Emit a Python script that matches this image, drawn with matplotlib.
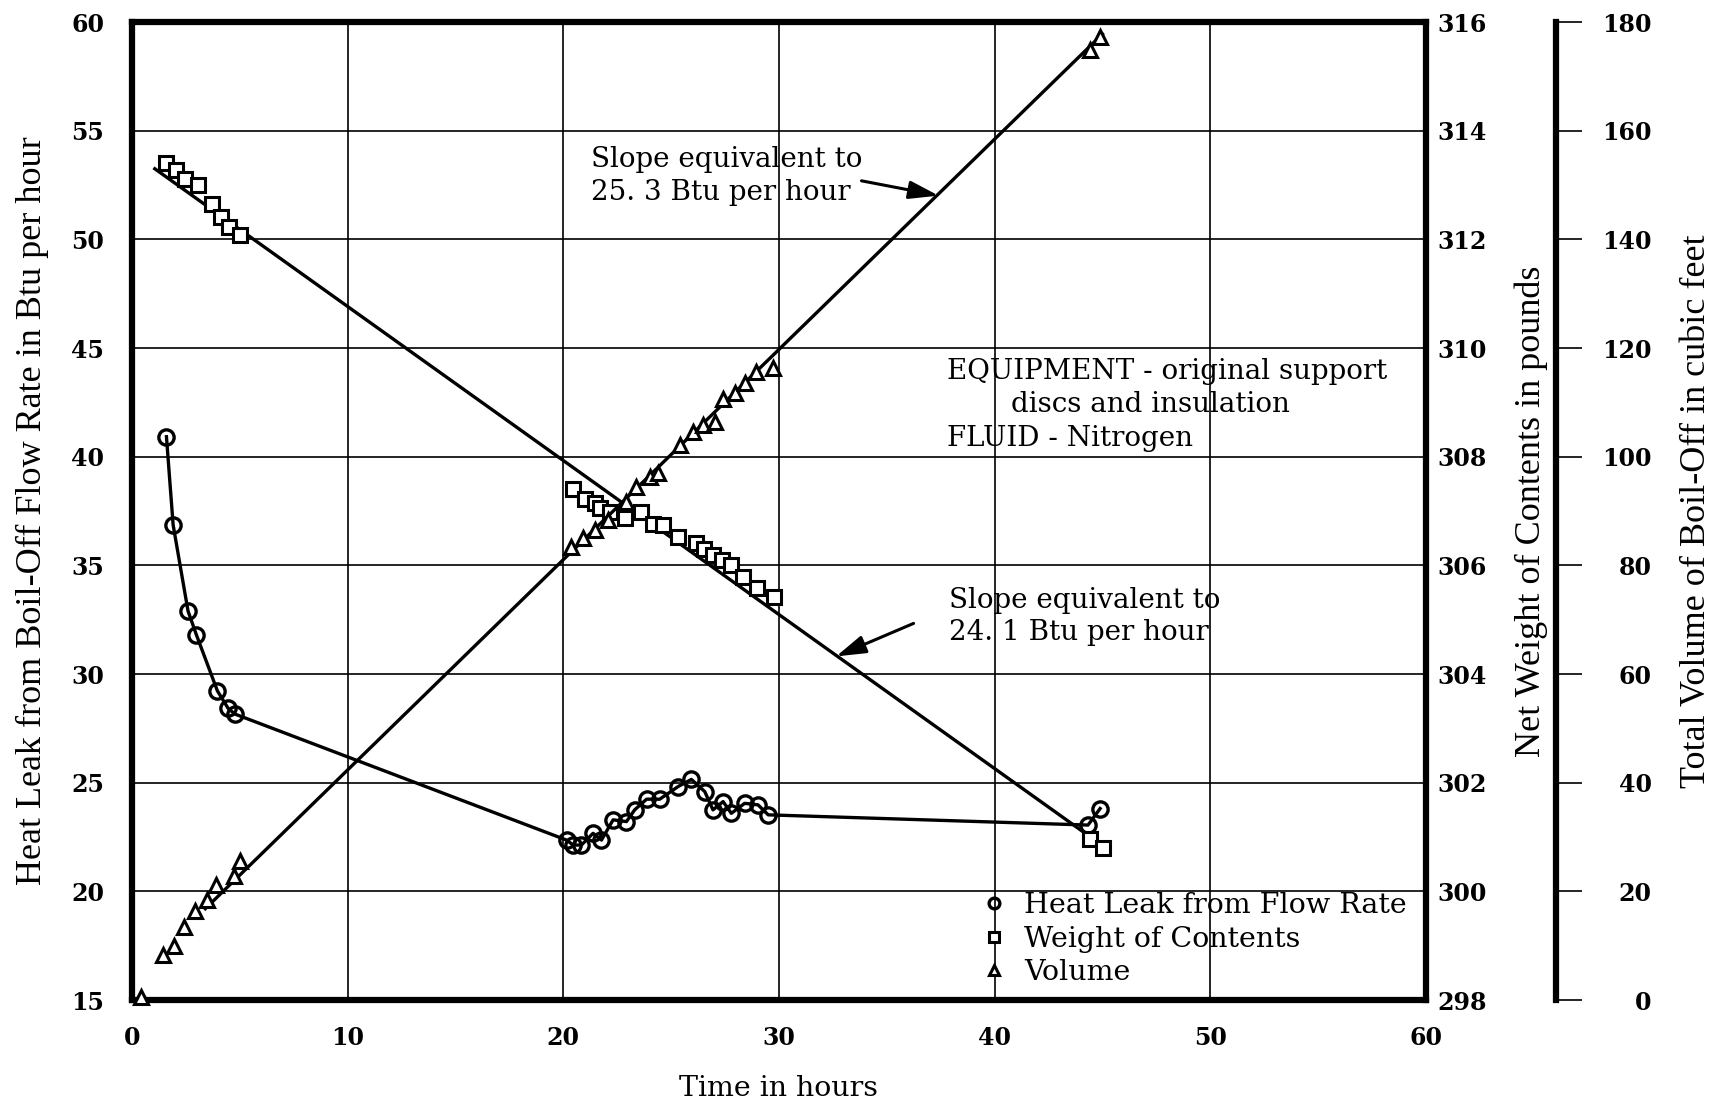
import matplotlib.pyplot as plt

# heat leak from boil-off flow rate (Btu per hour) vs time (hours)
heat_t = [1.60, 1.91, 2.60, 2.99, 3.96, 4.46, 4.77,
          20.15, 20.46, 20.84, 21.38, 21.77, 22.31, 22.93, 23.31, 23.86, 24.47,
          25.32, 25.94, 26.56, 26.94, 27.41, 27.79, 28.41, 29.03, 29.50,
          44.33, 44.89]
heat_q = [40.92, 36.86, 32.90, 31.80, 29.23, 28.42, 28.16,
          22.36, 22.13, 22.13, 22.67, 22.36, 23.29, 23.21, 23.75, 24.24, 24.24,
          24.82, 25.15, 24.59, 23.75, 24.13, 23.59, 24.05, 23.98, 23.52,
          23.05, 23.81]

# net weight of contents (pounds)
weight_t = [1.60, 2.03, 2.47, 3.06, 3.73, 4.12, 4.49, 5.03,
            20.45, 20.99, 21.46, 21.69, 22.15, 22.85, 23.62, 24.16, 24.63,
            25.32, 26.17, 26.51, 26.94, 27.34, 27.76, 28.34, 28.98, 29.76,
            44.43, 45.04]
weight_lb = [313.40, 313.28, 313.12, 313.00, 312.65, 312.42, 312.23, 312.08,
             307.40, 307.22, 307.14, 307.05, 306.99, 306.87, 306.99, 306.77, 306.74,
             306.53, 306.41, 306.31, 306.19, 306.10, 306.01, 305.78, 305.58, 305.42,
             300.96, 300.80]
weight_fit_t = [1.06, 44.9]
weight_fit_lb = [313.30, 300.87]

# total volume of boil-off (cubic feet)
vol_t = [0.42, 1.43, 1.97, 2.40, 2.93, 3.47, 3.90, 4.75, 5.03,
         20.38, 20.92, 21.46, 22.08, 22.92, 23.39, 24.01, 24.39, 25.40,
         26.02, 26.48, 27.02, 27.41, 27.95, 28.41, 28.95, 29.72,
         44.41, 44.87]
vol_cf = [0.5, 8.3, 10.0, 13.5, 16.4, 18.4, 21.2, 22.8, 25.5,
          83.3, 85.0, 86.5, 88.4, 91.7, 94.5, 96.3, 97.0, 102.2,
          104.6, 105.8, 106.4, 110.7, 111.7, 113.5, 115.6, 116.3,
          174.9, 177.3]
vol_fit_t = [3.4, 45.0]
vol_fit_cf = [16.8, 177.8]

plt.rcParams['font.family'] = 'DejaVu Serif'

fig = plt.figure(figsize=(17.27, 11.04), dpi=100)
ax = fig.add_axes([0.0764, 0.0942, 0.7493, 0.8858])
ax2 = ax.twinx()
ax3 = ax.twinx()

ax.set_xlim(0, 60)
ax.set_ylim(15, 60)
ax2.set_ylim(298, 316)
ax3.set_ylim(0, 180)
ax.set_xticks(range(0, 61, 10))
ax.set_yticks(range(15, 61, 5))
ax2.set_yticks(range(298, 317, 2))
ax3.set_yticks(range(0, 181, 20))

ax.grid(True, color='black', lw=1.2)
for s in ax.spines.values():
    s.set_linewidth(4.5)
for s in ax2.spines.values():
    s.set_visible(False)
for k, s in ax3.spines.items():
    s.set_visible(k == 'right')
ax3.spines['right'].set_position(('axes', 1.1005))
ax3.spines['right'].set_linewidth(4.5)

ax.tick_params(length=0, labelsize=17)
ax.tick_params(axis='y', pad=20)
ax.tick_params(axis='x', pad=19)
ax2.tick_params(length=0, labelsize=17, pad=8)
ax3.tick_params(length=19, width=1.2, direction='out', labelsize=17, pad=50)
for lbl in ax.get_xticklabels() + ax.get_yticklabels() + ax2.get_yticklabels() + ax3.get_yticklabels():
    lbl.set_fontweight('bold')
for lbl in ax3.get_yticklabels():
    lbl.set_horizontalalignment('right')

# data
ax.plot(heat_t, heat_q, color='black', lw=2.4)
h1, = ax.plot(heat_t, heat_q, 'o', ms=11, mfc='none', mec='black', mew=2.4,
              label='Heat Leak from Flow Rate')
ax2.plot(weight_fit_t, weight_fit_lb, color='black', lw=2.4)
h2, = ax2.plot(weight_t, weight_lb, 's', ms=9.5, mfc='white', mec='black', mew=2.2,
               label='Weight of Contents')
ax3.plot(vol_fit_t, vol_fit_cf, color='black', lw=2.4)
h3, = ax3.plot(vol_t, vol_cf, '^', ms=10, mfc='white', mec='black', mew=2.2,
               label='Volume', clip_on=False)

# axis titles
lkw = dict(transform=ax.transAxes, rotation=90, ha='center', va='center',
           family='Liberation Serif', fontsize=26)
ax.text(-0.0765, 0.5, 'Heat Leak from Boil-Off Flow Rate in Btu per hour', **lkw)
ax.text(1.081, 0.5, 'Net Weight of Contents in pounds', **lkw)
ax.text(1.2087, 0.5, 'Total Volume of Boil-Off in cubic feet', **lkw)
ax.set_xlabel('Time in hours', fontsize=20.5, labelpad=18)

# annotations
tkw = dict(fontsize=20, ha='left', va='center', transform=ax.transData)
ax3.text(21.29, 53.67, 'Slope equivalent to', **tkw)
ax3.text(21.29, 52.15, '25. 3 Btu per hour', **tkw)
ax3.text(37.79, 43.94, 'EQUIPMENT - original support', **tkw)
ax3.text(40.75, 42.41, 'discs and insulation', **tkw)
ax3.text(37.79, 40.84, 'FLUID - Nitrogen', **tkw)
ax3.text(37.89, 33.39, 'Slope equivalent to', **tkw)
ax3.text(37.89, 31.92, '24. 1 Btu per hour', **tkw)

akw = dict(arrowstyle='-|>,head_length=1.8,head_width=0.55', color='black', lw=2.2)
ax.annotate('', xy=(37.53, 51.99), xytext=(33.7, 52.72), arrowprops=akw)
ax.annotate('', xy=(32.53, 30.76), xytext=(36.36, 32.38), arrowprops=akw)

leg = ax3.legend(handles=[h1, h2, h3], loc='lower right',
                 bbox_to_anchor=(0.996, 0.0), frameon=False, fontsize=20.5,
                 markerscale=0.7, handlelength=0.7, handletextpad=0.7,
                 labelspacing=0.22, borderpad=0)

fig.savefig('out.png', dpi=100)
